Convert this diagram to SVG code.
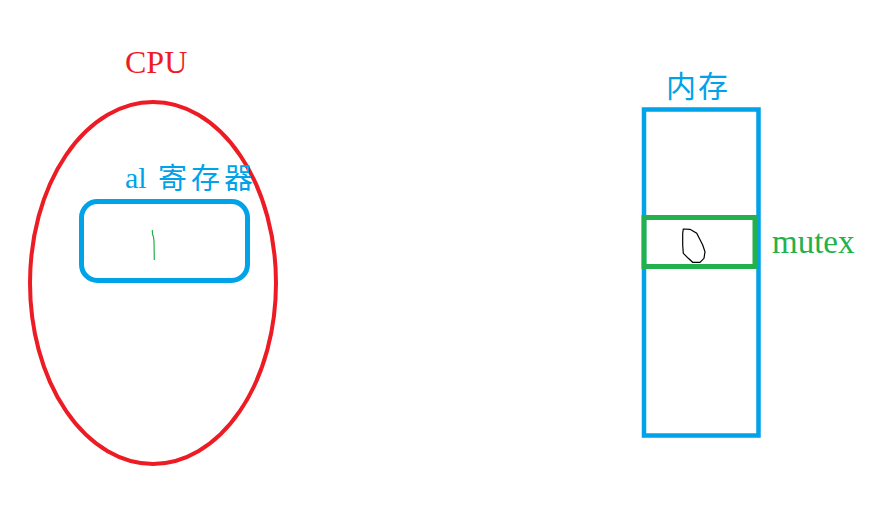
<svg xmlns="http://www.w3.org/2000/svg" width="889" height="522" viewBox="0 0 889 522">
<style>
.serif{font-family:"Liberation Serif","Noto Sans CJK SC",serif;}
.cjk{font-family:"Noto Sans CJK SC",sans-serif;}
.blue{fill:#00A2E8;}
.red{fill:#ED1C24;}
.green{fill:#22B14C;}
</style>
<rect width="889" height="522" fill="#ffffff"/>
<g id="cpu">
  <ellipse cx="153" cy="283" rx="123" ry="181" fill="none" stroke="#ED1C24" stroke-width="4"/>
  <text x="125" y="73" class="serif red" font-size="32">CPU</text>
</g>
<g id="al-register">
  <rect x="81.5" y="201.5" width="166" height="79" rx="16" ry="16" fill="none" stroke="#00A2E8" stroke-width="5"/>
  <text x="125" y="188" class="serif blue" font-size="30">al</text>
  <text x="158" y="189" class="cjk blue" font-size="29" letter-spacing="4">寄存器</text>
  <path d="M152.3 230 L152.6 235 L153.3 236 L154 241 L154.3 260" fill="none" stroke="#22B14C" stroke-width="1.2"/>
</g>
<g id="memory">
  <rect x="644" y="109.5" width="114.5" height="326" fill="none" stroke="#00A2E8" stroke-width="4.5"/>
  <text x="666" y="97" class="cjk blue" font-size="30" letter-spacing="2">内存</text>
</g>
<g id="mutex">
  <rect x="644" y="217.5" width="111" height="49" fill="none" stroke="#22B14C" stroke-width="5"/>
  <path d="M683.3 229 L690 229.3 L696.7 233.3 L699.3 238.3 L702.7 245 L705 251.7 L704 258.3 L700 262.3 L692.7 262.3 L688.3 258.3 L683.3 253.3 L682.7 245 L682.7 233.3 Z" fill="none" stroke="#000000" stroke-width="1.2"/>
  <text x="772" y="253" class="serif green" font-size="33">mutex</text>
</g>
<g id="connectors"></g>
</svg>
